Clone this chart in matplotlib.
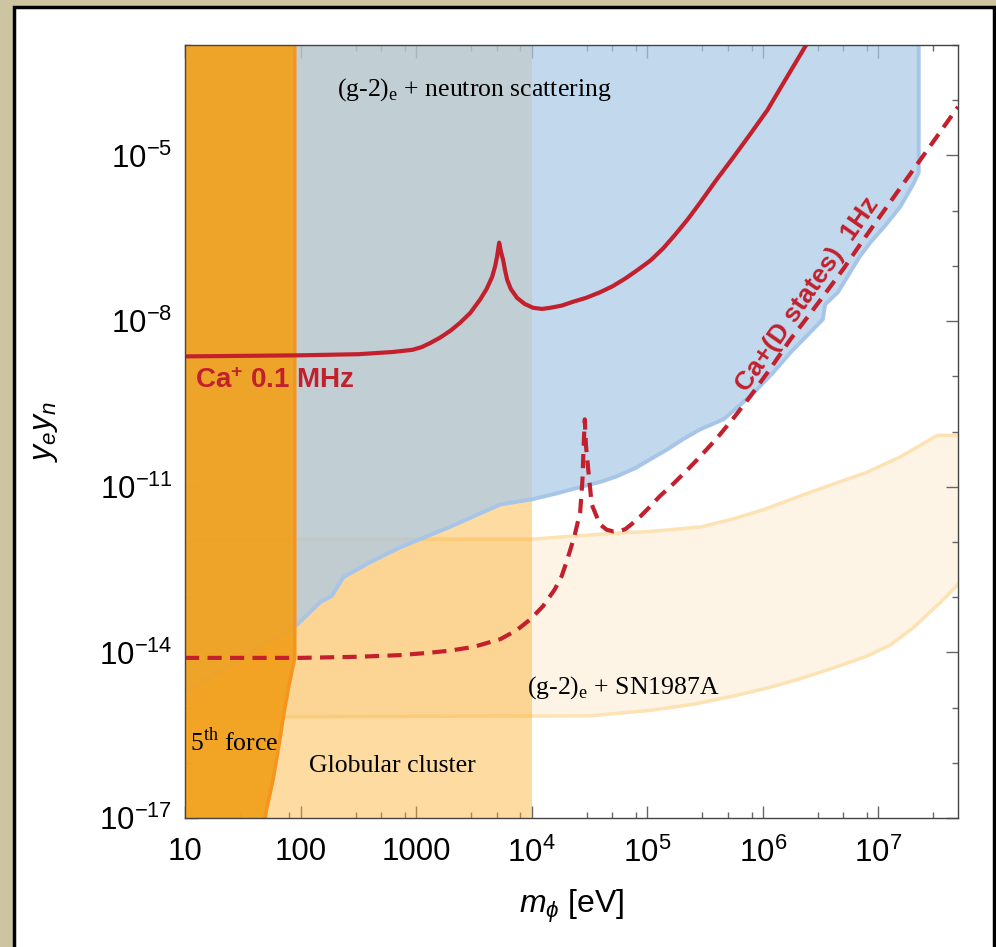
import numpy as np
import matplotlib
matplotlib.use("Agg")
import matplotlib.pyplot as plt
from matplotlib.patches import Rectangle
from matplotlib.ticker import FixedLocator, NullFormatter

plt.rcParams['font.family'] = ['Liberation Sans', 'DejaVu Sans']
plt.rcParams['mathtext.fontset'] = 'custom'
plt.rcParams['mathtext.rm'] = 'Liberation Sans'
plt.rcParams['mathtext.it'] = 'Liberation Sans:italic'
plt.rcParams['mathtext.bf'] = 'Liberation Sans:bold'

# --- data (log10 of m_phi [eV], log10 of y_e*y_n) ---
# (g-2)e + neutron scattering: lower edge of excluded region
neutron_logm = [1.0, 1.95, 2.17, 2.27, 2.37, 2.60, 2.86, 3.29, 3.73, 4.0, 4.2, 4.45,
                4.6, 4.74, 4.9, 5.03, 5.17, 5.31, 5.46, 5.66, 5.80, 5.95, 6.10, 6.24,
                6.38, 6.52, 6.54, 6.65, 6.84, 6.93, 7.06, 7.19, 7.30, 7.35, 7.35]
neutron_logy = [-14.73, -13.54, -13.09, -12.98, -12.64, -12.37, -12.10, -11.73, -11.32,
                -11.23, -11.13, -10.99, -10.91, -10.81, -10.66, -10.50, -10.33, -10.14,
                -9.96, -9.78, -9.53, -9.24, -8.91, -8.57, -8.27, -7.97, -7.70, -7.48,
                -6.83, -6.58, -6.27, -5.93, -5.53, -5.31, -3.0]

# 5th force: right edge
force_logm = [1.95, 1.95, 1.90, 1.857, 1.82, 1.763, 1.69]
force_logy = [-3.0, -14.1, -14.6, -15.1, -15.6, -16.3, -17.0]

# globular cluster: m < 1e4
globular_logm_max = 4.0

# (g-2)e + SN1987A band
sn_up_logm = [1.0, 4.0, 4.59, 5.03, 5.46, 5.75, 6.0, 6.32, 6.6, 6.9, 7.2, 7.51, 7.69]
sn_up_logy = [-11.95, -11.95, -11.86, -11.81, -11.73, -11.58, -11.42, -11.17, -10.96,
              -10.74, -10.45, -10.07, -10.07]
sn_lo_logm = [1.0, 4.5, 5.03, 5.4, 5.75, 6.05, 6.32, 6.6, 6.9, 7.1, 7.3, 7.54, 7.69]
sn_lo_logy = [-15.17, -15.15, -15.05, -14.94, -14.79, -14.64, -14.48, -14.29, -14.07,
              -13.87, -13.56, -13.09, -12.77]

# Ca+ 0.1 MHz (solid)
ca_logm = [1.0, 2.0, 2.5, 2.8, 2.97, 3.05, 3.12, 3.208, 3.30, 3.381, 3.47, 3.554,
           3.61, 3.658, 3.685, 3.701, 3.719, 3.735, 3.753, 3.77, 3.788, 3.82, 3.874,
           3.94, 4.013, 4.09, 4.16, 4.26, 4.359, 4.47, 4.59, 4.70, 4.81, 4.92, 5.03,
           5.14, 5.24, 5.35, 5.46, 5.60, 5.74, 5.89, 6.04, 6.21, 6.39]
ca_logy = [-8.64, -8.62, -8.60, -8.56, -8.52, -8.47, -8.40, -8.30, -8.17, -8.03, -7.85,
           -7.61, -7.42, -7.20, -7.00, -6.83, -6.58, -6.75, -6.89, -7.08, -7.25, -7.42,
           -7.58, -7.69, -7.76, -7.78, -7.76, -7.72, -7.65, -7.58, -7.48, -7.37, -7.23,
           -7.07, -6.90, -6.68, -6.44, -6.16, -5.85, -5.44, -5.05, -4.62, -4.18, -3.58,
           -2.95]

# Ca+ (D states) 1 Hz (dashed)
cad_logm = [1.0, 2.0, 2.5, 2.86, 3.1, 3.29, 3.5, 3.73, 3.87, 3.99, 4.10, 4.20, 4.26,
            4.31, 4.37, 4.42, 4.44, 4.45, 4.46, 4.47, 4.49, 4.52, 4.59, 4.65, 4.71,
            4.76, 4.81, 4.87, 4.94, 5.02, 5.11, 5.23, 5.35, 5.46, 5.6, 5.75, 5.89,
            6.07, 6.24, 6.38, 6.52, 6.7, 6.87, 7.04, 7.2, 7.34, 7.5, 7.69]
cad_logy = [-14.10, -14.10, -14.08, -14.05, -14.01, -13.97, -13.90, -13.76, -13.60,
            -13.40, -13.16, -12.86, -12.62, -12.31, -11.90, -11.46, -10.87, -10.27,
            -9.78, -10.25, -10.69, -11.32, -11.68, -11.78, -11.81, -11.80, -11.77,
            -11.67, -11.54, -11.37, -11.17, -10.94, -10.69, -10.45, -10.13, -9.75,
            -9.37, -8.85, -8.33, -7.95, -7.56, -7.05, -6.53, -6.03, -5.56, -5.15,
            -4.68, -4.12]

xticks_major = [1e1, 1e2, 1e3, 1e4, 1e5, 1e6, 1e7]
xtick_labels = ['10', '100', '1000', r'$10^4$', r'$10^5$', r'$10^6$', r'$10^7$']
yticks_major = [1e-5, 1e-8, 1e-11, 1e-14, 1e-17]
ytick_labels = [r'$10^{-5}$', r'$10^{-8}$', r'$10^{-11}$', r'$10^{-14}$', r'$10^{-17}$']

red = '#c1202c'

fig = plt.figure(figsize=(9.96, 9.47), dpi=100)
fig.patch.set_facecolor('#cdc5a1')
fig.add_artist(Rectangle((14 / 996, -0.02), 980 / 996, 940 / 947 + 0.02,
                         transform=fig.transFigure, facecolor='white',
                         edgecolor='black', linewidth=2.5, zorder=0))

ax = fig.add_axes([185 / 996, 1 - 818 / 947, 773 / 996, 773 / 947])
ax.set_xscale('log')
ax.set_yscale('log')
xmin, xmax = 10, 10 ** 7.69
ymin, ymax = 1e-17, 1e-3

p = lambda a: np.power(10.0, np.array(a))

# SN1987A band
ax.fill(np.concatenate([p(sn_up_logm), p(sn_lo_logm)[::-1]]),
        np.concatenate([p(sn_up_logy), p(sn_lo_logy)[::-1]]),
        facecolor='#fbb040', alpha=0.13, edgecolor='none', zorder=1)
ax.plot(p(sn_up_logm), p(sn_up_logy), color='#fde2b4', lw=2.5, zorder=1)
ax.plot(p(sn_lo_logm), p(sn_lo_logy), color='#fde2b4', lw=2.5, zorder=1)

# globular cluster
ax.fill([1, 10 ** globular_logm_max, 10 ** globular_logm_max, 1],
        [1e-20, 1e-20, 1, 1], facecolor='#fbb030', alpha=0.45,
        edgecolor='none', zorder=2)

# neutron scattering
nx = [1.0] + list(p(neutron_logm)) + [1.0]
ny = [10 ** -15.5] + list(p(neutron_logy)) + [1e-3]
ax.fill(nx, ny, facecolor='#aac9e7', alpha=0.72, edgecolor='none', zorder=3)
ax.plot(p(neutron_logm), p(neutron_logy), color='#a6c5e8', lw=2.8, zorder=3)

# 5th force
fx = [1.0] + list(p(force_logm)) + [1.0]
fy = [1e-3] + list(p(force_logy)) + [1e-17]
ax.fill(fx, fy, facecolor='#f2a01c', alpha=0.93, edgecolor='none', zorder=4)
ax.plot(p(force_logm), p(force_logy), color='#f7941d', lw=2.5, zorder=4)

# limits
ax.plot(p(ca_logm), p(ca_logy), color=red, lw=3, zorder=6,
        solid_joinstyle='round')
ax.plot(p(cad_logm), p(cad_logy), color=red, lw=3, zorder=6,
        linestyle=(0, (3.4, 2.0)))

ax.set_xlim(xmin, xmax)
ax.set_ylim(ymin, ymax)

# labels in the plot
serif = ['Liberation Serif', 'DejaVu Serif']
ax.text(207, 10 ** -3.8, r'(g-2)$_\mathregular{e}$ + neutron scattering',
        family=serif, fontsize=18.5, va='center', ha='left', zorder=7)
ax.text(9100, 10 ** -14.63, r'(g-2)$_\mathregular{e}$ + SN1987A',
        family=serif, fontsize=18.5, va='center', ha='left', zorder=7)
ax.text(11.0, 10 ** -15.62, r'5$^\mathregular{th}$ force',
        family=serif, fontsize=18.5, va='center', ha='left', zorder=7)
ax.text(118, 10 ** -16.06, 'Globular cluster',
        family=serif, fontsize=18.5, va='center', ha='left', zorder=7)
ax.text(12.2, 10 ** -9.09, r'Ca$^\mathbf{+}$ 0.1 MHz', color=red,
        fontsize=20, fontweight='bold', va='center', ha='left', zorder=7)
ax.text(10 ** 6.39, 10 ** -7.52, 'Ca+(D states)  1Hz', color=red,
        fontsize=19, fontweight='bold', va='center', ha='center',
        rotation=55, rotation_mode='anchor', zorder=7)

# ticks
minor_x = [f * 10 ** k for k in range(1, 8) for f in (3, 5, 8)]
minor_y = [10.0 ** k for k in range(-17, -2)]
ax.xaxis.set_major_locator(FixedLocator(xticks_major))
ax.xaxis.set_minor_locator(FixedLocator(minor_x))
ax.xaxis.set_minor_formatter(NullFormatter())
ax.set_xticklabels(xtick_labels)
ax.yaxis.set_major_locator(FixedLocator(yticks_major))
ax.yaxis.set_minor_locator(FixedLocator(minor_y))
ax.yaxis.set_minor_formatter(NullFormatter())
ax.set_yticklabels(ytick_labels)
ax.tick_params(which='both', direction='in', top=True, right=True,
               color='#666666', labelsize=22.5)
ax.tick_params(axis='x', which='major', pad=14)
ax.tick_params(axis='y', which='major', pad=9)
ax.tick_params(which='major', length=9, width=1)
ax.tick_params(which='minor', length=4, width=1)
for s in ax.spines.values():
    s.set_color('#444444')
    s.set_linewidth(1)
    s.set_zorder(8)

ax.set_xlabel(r'$m_\phi$ [eV]', fontsize=23, labelpad=14)
ax.set_ylabel(r'$y_e y_n$', fontsize=23, labelpad=28)

fig.savefig('out.png', dpi=100, facecolor=fig.get_facecolor())
